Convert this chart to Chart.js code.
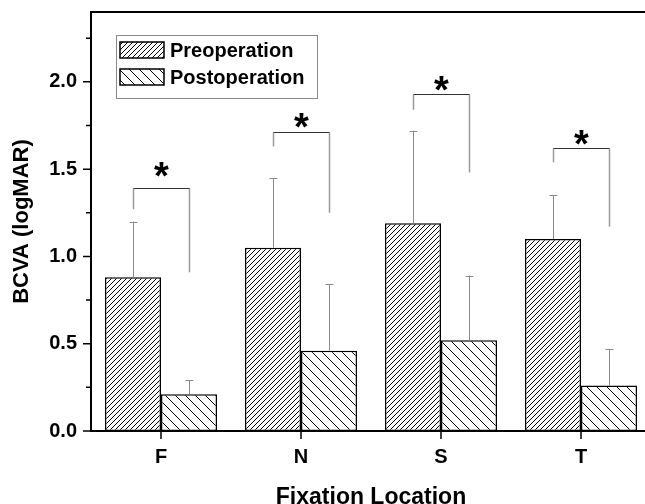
<!DOCTYPE html>
<html><head><meta charset="utf-8">
<script src="https://cdn.jsdelivr.net/npm/chart.js@4.4.0/dist/chart.umd.min.js"></script>
<style>
html,body{margin:0;padding:0;background:#fff;overflow:hidden}
#wrap{width:645px;height:504px;overflow:hidden;position:relative}
#box{position:absolute;left:0;top:0;width:660px;height:504px}
</style>
</head><body>
<div id="wrap"><div id="box"><canvas id="c"></canvas></div></div>
<script>
// ---- data ----
const categories = ['F', 'N', 'S', 'T'];
const seriesNames = ['Preoperation', 'Postoperation'];
const preValues = [0.88, 1.05, 1.19, 1.10];
const preErrors = [0.32, 0.40, 0.53, 0.25];
const postValues = [0.21, 0.46, 0.52, 0.26];
const postErrors = [0.08, 0.38, 0.37, 0.21];
const bracketTop = [1.39, 1.71, 1.93, 1.62];
const bracketLeftEnd = [1.27, 1.63, 1.84, 1.54];
const bracketRightEnd = [0.91, 1.25, 1.48, 1.17];
const starY = [1.50, 1.78, 1.99, 1.68];
const yTickLabels = [0, 0.5, 1.0, 1.5, 2.0];
const yMinorTicks = [0.25, 0.75, 1.25, 1.75, 2.25];
const yMax = 2.4;

const FONT = '"Liberation Sans", Arial, sans-serif';
const canvas = document.getElementById('c');
const ctx = canvas.getContext('2d');

function hatch(spacing, dir) {
  const c = document.createElement('canvas');
  c.width = spacing; c.height = spacing;
  const g = c.getContext('2d');
  g.fillStyle = '#fff'; g.fillRect(0, 0, spacing, spacing);
  g.strokeStyle = '#000'; g.lineWidth = 1;
  g.beginPath();
  if (dir > 0) {
    g.moveTo(-1, spacing + 1); g.lineTo(spacing + 1, -1);
    g.moveTo(-1, 1); g.lineTo(1, -1);
    g.moveTo(spacing - 1, spacing + 1); g.lineTo(spacing + 1, spacing - 1);
  } else {
    g.moveTo(-1, -1); g.lineTo(spacing + 1, spacing + 1);
    g.moveTo(spacing - 1, -1); g.lineTo(spacing + 1, 1);
    g.moveTo(-1, spacing - 1); g.lineTo(1, spacing + 1);
  }
  g.stroke();
  return ctx.createPattern(c, 'repeat');
}
const prePattern = hatch(5, 1);
const postPattern = hatch(10, -1);

const errors = [preErrors, postErrors];

const overlay = {
  id: 'overlay',
  afterDatasetsDraw(chart) {
    const c = chart.ctx;
    const ys = chart.scales.y, xs = chart.scales.x;
    const ca = chart.chartArea;
    c.save();
    // error bars
    c.strokeStyle = '#8a8a8a'; c.lineWidth = 1;
    chart.data.datasets.forEach((ds, di) => {
      const meta = chart.getDatasetMeta(di);
      meta.data.forEach((el, i) => {
        const top = ys.getPixelForValue(ds.data[i] + errors[di][i]);
        const x = Math.round(el.x) + 0.5;
        c.beginPath();
        c.moveTo(x, el.y); c.lineTo(x, top);
        c.moveTo(x - 4, Math.round(top) + 0.5); c.lineTo(x + 4, Math.round(top) + 0.5);
        c.stroke();
      });
    });
    // brackets
    const m0 = chart.getDatasetMeta(0), m1 = chart.getDatasetMeta(1);
    categories.forEach((cat, i) => {
      const xl = Math.round(m0.data[i].x) + 0.5, xr = Math.round(m1.data[i].x) + 0.5;
      const yt = Math.round(ys.getPixelForValue(bracketTop[i])) + 0.5;
      c.strokeStyle = '#9a9a9a'; c.lineWidth = 1.5;
      c.beginPath();
      c.moveTo(xl, ys.getPixelForValue(bracketLeftEnd[i])); c.lineTo(xl, yt);
      c.moveTo(xr, ys.getPixelForValue(bracketRightEnd[i])); c.lineTo(xr, yt);
      c.stroke();
      c.strokeStyle = '#333'; c.lineWidth = 1;
      c.beginPath(); c.moveTo(xl, yt); c.lineTo(xr, yt); c.stroke();
      // star
      c.fillStyle = '#000';
      c.font = 'bold 38px ' + FONT;
      c.textAlign = 'center'; c.textBaseline = 'alphabetic';
      const mt = c.measureText('*');
      const cy = ys.getPixelForValue(starY[i]);
      const b = cy + (mt.actualBoundingBoxAscent - mt.actualBoundingBoxDescent) / 2;
      c.fillText('*', (xl + xr) / 2, b);
    });
    // axes frame
    c.strokeStyle = '#000'; c.lineWidth = 2;
    c.beginPath();
    c.moveTo(ca.left, ca.top); c.lineTo(ca.right, ca.top);
    c.moveTo(ca.left, ca.top - 1); c.lineTo(ca.left, ca.bottom + 1);
    c.moveTo(ca.left - 1, ca.bottom); c.lineTo(ca.right, ca.bottom);
    c.moveTo(ca.right, ca.top); c.lineTo(ca.right, ca.bottom);
    c.stroke();
    // y ticks
    c.lineWidth = 1.5;
    c.beginPath();
    yTickLabels.forEach(v => { const y = ys.getPixelForValue(v); c.moveTo(ca.left - 8, y); c.lineTo(ca.left, y); });
    yMinorTicks.forEach(v => { const y = ys.getPixelForValue(v); c.moveTo(ca.left - 5, y); c.lineTo(ca.left, y); });
    // x ticks
    categories.forEach((cat, i) => { const x = xs.getPixelForValue(i); c.moveTo(x, ca.bottom); c.lineTo(x, ca.bottom + 8); });
    c.stroke();
    // legend
    const lx = ca.left + 25, ly = ca.top + 23;
    c.fillStyle = '#fff'; c.fillRect(lx, ly, 201, 63);
    c.strokeStyle = '#8a8a8a'; c.lineWidth = 1;
    c.strokeRect(lx + 0.5, ly + 0.5, 201, 63);
    const pats = [prePattern, postPattern];
    c.font = 'bold 20px ' + FONT; c.textAlign = 'left'; c.textBaseline = 'middle';
    seriesNames.forEach((name, k) => {
      const sy = ly + 7 + k * 27;
      c.fillStyle = pats[k]; c.fillRect(lx + 4, sy, 44, 16);
      c.strokeStyle = '#000'; c.lineWidth = 1.5; c.strokeRect(lx + 4, sy, 44, 16);
      c.fillStyle = '#000'; c.fillText(name, lx + 54, sy + 9);
    });
    c.restore();
  }
};

new Chart(canvas, {
  type: 'bar',
  data: {
    labels: categories,
    datasets: [
      { label: seriesNames[0], data: preValues, backgroundColor: prePattern, borderColor: '#000', borderWidth: 1.5, borderSkipped: false },
      { label: seriesNames[1], data: postValues, backgroundColor: postPattern, borderColor: '#000', borderWidth: 1.5, borderSkipped: false }
    ]
  },
  options: {
    responsive: true, maintainAspectRatio: false, animation: false,
    devicePixelRatio: 1,
    layout: { padding: { left: 0, top: 12, right: 9, bottom: 0 } },
    datasets: { bar: { barPercentage: 1, categoryPercentage: 0.8 } },
    plugins: { legend: { display: false }, tooltip: { enabled: false } },
    scales: {
      x: {
        grid: { display: false, drawTicks: false }, border: { display: false },
        ticks: { color: '#000', font: { family: FONT, size: 20, weight: 'bold' }, padding: 14 },
        title: { display: true, text: 'Fixation Location', color: '#000', font: { family: FONT, size: 23, weight: 'bold' }, padding: { top: 0, bottom: -7 } },
        afterFit(s) { s.height = 73; s.paddingLeft = 0; s.paddingRight = 0; }
      },
      y: {
        min: 0, max: yMax,
        grid: { display: false, drawTicks: false }, border: { display: false },
        ticks: { stepSize: 0.5, color: '#000', font: { family: FONT, size: 20, weight: 'bold' }, padding: 14,
          callback: (v) => yTickLabels.includes(v) ? v.toFixed(1) : '' },
        title: { display: true, text: 'BCVA (logMAR)', color: '#000', font: { family: FONT, size: 22, weight: 'bold' }, padding: { top: 9, bottom: 0 } },
        afterFit(s) { s.width = 91; s.paddingTop = 0; s.paddingBottom = 0; }
      }
    }
  },
  plugins: [overlay]
});
</script>
</body></html>
